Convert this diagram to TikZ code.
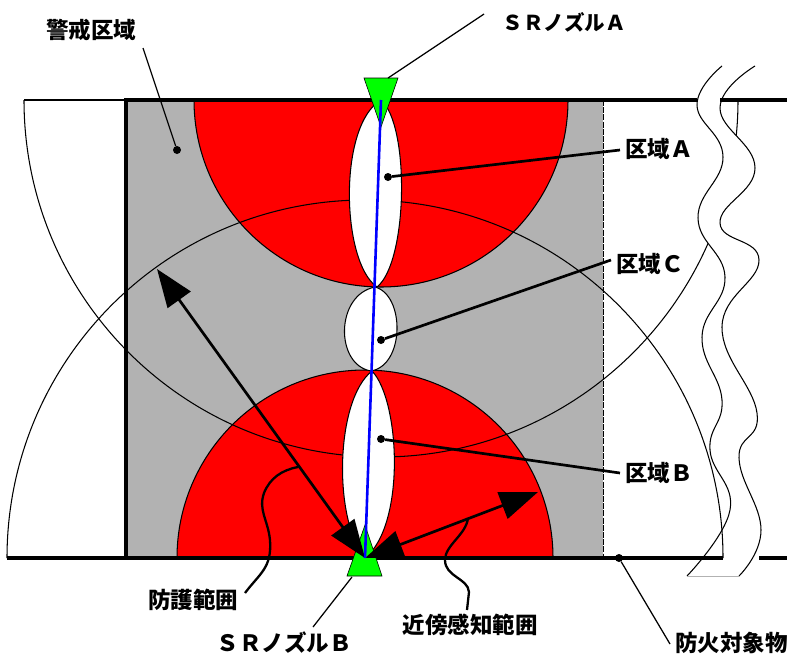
\documentclass[tikz,border=0pt]{standalone}
\usepackage{fontspec}
\usepackage{xcolor}
\usetikzlibrary{arrows.meta}
\newfontfamily\jpfont[BoldFont={Noto Sans CJK JP Black}]{Noto Sans CJK JP}
\definecolor{zonegray}{HTML}{B2B2B2}
\definecolor{zonered}{HTML}{FF0000}
\definecolor{nozzlegreen}{HTML}{00FF00}
\definecolor{axisblue}{HTML}{0000FF}
\tikzset{
  lbl/.style={font=\jpfont\bfseries\fontsize{22.5}{26}\selectfont, inner sep=0pt, text=black},
  thinln/.style={draw=black, line width=1.05pt},
  thickln/.style={draw=black, line width=3.1pt},
  redzone/.style={thinln, fill=zonered},
  lens/.style={thinln, fill=white},
  nozzle/.style={draw=black, line width=.6pt, fill=nozzlegreen},
  dot/.style={circle, fill=black, inner sep=0pt, minimum size=8pt},
  leader/.style={draw=black, line width=2.7pt},
  slimleader/.style={draw=black, line width=1.25pt},
  curveleader/.style={draw=black, line width=2.3pt},
  dbl/.style={{Triangle[length=38pt,width=28pt]}-{Triangle[length=38pt,width=28pt]}, line width=2.7pt},
}

\begin{document}
\begin{tikzpicture}[x=1pt,y=-1pt]
  \useasboundingbox (0,0) rectangle (787,654);
  \coordinate (nozA) at (381,100);
  \coordinate (nozB) at (365,558);
  % zones
  \fill[zonegray] (126,100) rectangle (603,558);
  \draw[redzone] (194,100) arc[start angle=180,end angle=0,radius=187] -- cycle;
  \draw[redzone] (177,558) arc[start angle=180,end angle=360,radius=188] -- cycle;
  \draw[thinln] (24,100) arc[start angle=180,end angle=0,radius=357];
  \draw[thinln] (24,100) -- (126,100);
  % wavy strip
  \fill[white] plot[smooth,tension=.75] coordinates {(722,66) (697,105) (723,157) (698,218) (725,277) (702,337) (722,400) (710,450) (730,510) (687,576)}
    -- plot[smooth,tension=.75] coordinates {(739,576) (761,530) (739,458) (757,413) (722,327) (759,260) (720,223) (755,168) (720,108) (755,66)} -- cycle;
  \draw[thinln] plot[smooth,tension=.75] coordinates {(722,66) (697,105) (723,157) (698,218) (725,277) (702,337) (722,400) (710,450) (730,510) (687,576)};
  \draw[thinln] plot[smooth,tension=.75] coordinates {(755,66) (720,108) (755,168) (720,223) (759,260) (722,327) (757,413) (739,458) (761,530) (739,576)};
  \draw[gray!60,line width=1pt] (687,576) -- (739,576);
  \draw[thinln] (7,558) arc[start angle=180,end angle=360,radius=358];
  % open areas
  \draw[lens] (nozA) .. controls (338,125) and (341,262) .. (377,287) .. controls (408,262) and (410,125) .. (nozA);
  \draw[lens] (375,287) .. controls (335,295) and (335,365) .. (371,371) .. controls (405,365) and (405,295) .. (375,287);
  \draw[lens] (372,371) .. controls (335,400) and (333,520) .. (nozB) .. controls (406,525) and (400,400) .. (372,371);
  % frame
  \draw[draw=black,line width=.9pt,dash pattern=on 6pt off 1.2pt] (603,100) -- (603,558);
  \draw[thickln] (126,558) -- (126,100) -- (697,100);
  \draw[thickln] (720,100) -- (787,100);
  \draw[thickln] (7,558) -- (723,558);
  \draw[thickln] (759,558) -- (787,558);
  % nozzles
  \draw[nozzle] (364,78) -- (398,78) -- (381,127) -- cycle;
  \draw[nozzle] (347,576) -- (382,576) -- (365,525) -- cycle;
  % labels
  \node[lbl] (lblW) at (91,30) {警戒区域};
  \node[lbl,font=\jpfont\bfseries\fontsize{20.5}{24}\selectfont] (lblNA) at (564,22) {ＳＲノズルＡ};
  \node[lbl,anchor=west] (lblA) at (625,149) {区域Ａ};
  \node[lbl,anchor=west] (lblC) at (616,264) {区域Ｃ};
  \node[lbl,anchor=west] (lblB) at (625,473) {区域Ｂ};
  \node[lbl] (lblP) at (193,600) {防護範囲};
  \node[lbl] (lblS) at (470,625) {近傍感知範囲};
  \node[lbl] (lblNB) at (284,643) {ＳＲノズルＢ};
  \node[lbl,anchor=east] (lblT) at (788,643) {防火対象物};
  % dots
  \node[dot] (dotW) at (177,150) {};
  \node[dot] (dotA) at (388,177) {};
  \node[dot] (dotC) at (381,340) {};
  \node[dot] (dotB) at (381,439) {};
  \node[dot] (dotT) at (619,558) {};
  % leader ends
  \coordinate (endW) at (143,48);
  \coordinate (endNA) at (484,14);
  \coordinate (tipNA) at (388,78);
  \coordinate (endA) at (620,150);
  \coordinate (endC) at (611,260);
  \coordinate (endB) at (620,473);
  \coordinate (endT) at (670,644);
  \coordinate (endNB) at (313,627);
  \coordinate (tipNB) at (352,577);
  \coordinate (endP) at (245,593);
  \coordinate (endS) at (467,610);
  \coordinate (tipR) at (157,269);
  \coordinate (tipS) at (538,492);
  \coordinate (onR) at (298,467);
  \coordinate (onS) at (468,518);
  % leaders
  \draw[slimleader] (endW) -- (dotW);
  \draw[slimleader] (endNA) -- (tipNA);
  \draw[leader] (endA) -- (dotA);
  \draw[leader] (endC) -- (dotC);
  \draw[leader] (endB) -- (dotB);
  \draw[slimleader] (endT) -- (dotT);
  \draw[slimleader] (endNB) -- (tipNB);
  % ranges
  \draw[dbl] (tipR) -- (nozB);
  \draw[dbl] (tipS) -- (nozB);
  \draw[curveleader] (endP) .. controls (260,573) and (272,568) .. (270,540) .. controls (268,520) and (258,510) .. (264,493) .. controls (270,478) and (282,470) .. (onR);
  \draw[curveleader] (onS) .. controls (466,535) and (445,545) .. (445,560) .. controls (445,577) and (468,578) .. (469,592) -- (endS);
  % axis
  \draw[draw=axisblue,line width=2.6pt] (nozA) -- (nozB);
\end{tikzpicture}
\end{document}
